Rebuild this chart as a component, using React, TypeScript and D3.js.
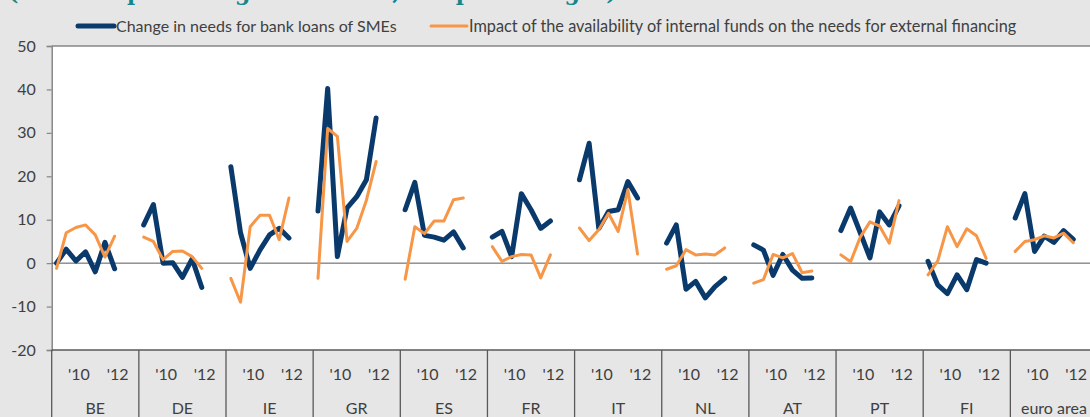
import { useEffect, useRef } from "react";
import * as d3 from "d3";

const C = {
  bg: "#e6e6e6", plot: "#ffffff", blue: "#0a3a6c", orange: "#f79646",
  text: "#404040", axis: "#868686", dark: "#595959", title: "#17868a",
};

const W = 1090, H = 417;
const PLOT = { left: 51.7, top: 46, bottom: 350 };
const GROUP_W = 87.15;
const SLOTS = 9; // 7 half-year rounds + 2 empty slots per country

const COUNTRIES = ["BE", "DE", "IE", "GR", "ES", "FR", "IT", "NL", "AT", "PT", "FI", "euro area"];
const YEAR_LABELS = ["'10", "'12"];
const YEAR_SLOTS = [2.82, 6.8];
const Y_TICKS = [-20, -10, 0, 10, 20, 30, 40, 50];

// change in needs for bank loans of SMEs
const LOAN_NEEDS = [
  [0, 3.2, 0.5, 2.6, -2, 4.8, -1.3],
  [8.8, 13.5, 0, 0.1, -3.3, 1, -5.6],
  [22.2, 7, -1.2, 3, 6.5, 8, 5.8],
  [12, 40.2, 1.5, 12.7, 15.3, 19.2, 33.4],
  [12.3, 18.6, 6.4, 6, 5.3, 7.2, 3.5],
  [6, 7.3, 1.5, 16, 12.3, 8, 9.7],
  [19.2, 27.6, 8, 11.9, 12.3, 18.8, 15],
  [4.6, 8.8, -6, -4.2, -8, -5.4, -3.5],
  [4.2, 3, -2.8, 2, -1.6, -3.5, -3.4],
  [7.5, 12.7, 7, 1.2, 11.8, 8.8, 13.2],
  [0.4, -5, -7, -2.7, -6.1, 0.8, 0],
  [10.4, 16, 2.7, 6.2, 4.8, 7.5, 5.5],
];

// impact of internal funds availability on external financing needs
const INTERNAL_FUNDS = [
  [-1.2, 7, 8.2, 8.8, 6.5, 1.4, 6.2],
  [6, 5, 0.8, 2.7, 2.8, 1.5, -1.2],
  [-3.5, -9, 8.4, 11, 11, 5.4, 15],
  [-3.5, 31, 29.2, 5, 8, 14.5, 23.4],
  [-3.7, 8.4, 6.8, 9.7, 9.7, 14.6, 15],
  [3.8, 0.4, 1.5, 2, 1.9, -3.4, 1.9],
  [8.1, 5.2, 7.7, 11.5, 7.3, 16.9, 2.1],
  [-1.4, -0.6, 3.1, 1.9, 2.1, 1.9, 3.5],
  [-4.6, -3.8, 2, 1.2, 2.2, -2.2, -1.8],
  [1.9, 0.3, 6, 9.5, 8.5, 4.6, 14.4],
  [-2.7, 0.5, 8.4, 3.8, 7.9, 6.3, 1.1],
  [2.7, 5, 5.4, 6.3, 5.8, 6.9, 4.7],
];

const SERIES = [
  { name: "Change in needs for bank loans of SMEs", data: LOAN_NEEDS, color: C.blue, width: 5 },
  { name: "Impact of the availability of internal funds on the needs for external financing", data: INTERNAL_FUNDS, color: C.orange, width: 3 },
];

const FONT = "Lato, 'Open Sans', sans-serif";

export default function App() {
  const svgRef = useRef<SVGSVGElement>(null);

  useEffect(() => {
    const svg = d3.select(svgRef.current);
    svg.selectAll("*").remove();

    const x = d3.scaleLinear()
      .domain([0, COUNTRIES.length * SLOTS])
      .range([PLOT.left, PLOT.left + GROUP_W * COUNTRIES.length]);
    const y = d3.scaleLinear().domain([-20, 50]).range([PLOT.bottom, PLOT.top]);
    const right = x(COUNTRIES.length * SLOTS);

    svg.append("rect").attr("width", W).attr("height", H).attr("fill", C.bg);

    // title: sits above the picture, only its descenders show
    svg.append("text").attr("x", 8).attr("y", 0)
      .attr("font-family", "'DejaVu Serif', serif").attr("font-weight", 700)
      .attr("font-size", 22).attr("fill", C.title)
      .text("(over the preceding six months; net percentages)");

    // plot area
    svg.append("rect").attr("x", PLOT.left).attr("y", PLOT.top)
      .attr("width", right - PLOT.left).attr("height", PLOT.bottom - PLOT.top)
      .attr("fill", C.plot);
    svg.append("line").attr("x1", PLOT.left).attr("x2", right)
      .attr("y1", PLOT.top).attr("y2", PLOT.top)
      .attr("stroke", C.axis).attr("stroke-width", 1.5);

    // ── y axis ──
    svg.append("g").attr("transform", `translate(${PLOT.left},0)`)
      .call(d3.axisLeft(y).tickValues(Y_TICKS).tickSize(5).tickPadding(11)
        .tickFormat(d => String(d)))
      .call(a => a.select(".domain").attr("stroke", C.axis).attr("stroke-width", 1.5))
      .call(a => a.selectAll(".tick line").attr("stroke", C.axis).attr("stroke-width", 1.2))
      .call(a => a.selectAll("text").attr("fill", C.text).attr("font-size", 16)
        .attr("font-family", FONT));

    // zero line
    svg.append("line").attr("x1", PLOT.left).attr("x2", right)
      .attr("y1", y(0)).attr("y2", y(0))
      .attr("stroke", C.dark).attr("stroke-width", 1);

    // ── category axis ──
    const cat = svg.append("g");
    cat.append("line").attr("x1", PLOT.left).attr("x2", right)
      .attr("y1", PLOT.bottom).attr("y2", PLOT.bottom)
      .attr("stroke", C.dark).attr("stroke-width", 1.5);
    COUNTRIES.forEach((name, g) => {
      const x0 = x(g * SLOTS);
      cat.append("line").attr("x1", x0).attr("x2", x0)
        .attr("y1", PLOT.bottom).attr("y2", H)
        .attr("stroke", C.dark).attr("stroke-width", 1.3);
      YEAR_LABELS.forEach((lab, k) => {
        cat.append("text").attr("x", x(g * SLOTS + YEAR_SLOTS[k])).attr("y", 379.5)
          .attr("text-anchor", "middle").attr("font-family", FONT).attr("font-size", 16)
          .attr("fill", C.text).text(lab);
      });
      cat.append("text").attr("x", x(g * SLOTS + SLOTS / 2)).attr("y", 413.5)
        .attr("text-anchor", "middle").attr("font-family", FONT).attr("font-size", 16)
        .attr("fill", C.text).text(name);
    });

    // ── lines, one segment per country ──
    const line = d3.line<[number, number]>().x(d => x(d[0])).y(d => y(d[1]));
    SERIES.forEach(s => {
      const sg = svg.append("g");
      s.data.forEach((vals, g) => {
        const pts = vals.map((v, i) => [g * SLOTS + i + 0.5, v] as [number, number]);
        sg.append("path").attr("d", line(pts))
          .attr("fill", "none").attr("stroke", s.color).attr("stroke-width", s.width)
          .attr("stroke-linejoin", "round").attr("stroke-linecap", "round");
      });
    });

    // ── legend ──
    const legX = [78, 431];
    SERIES.forEach((s, k) => {
      const lg = svg.append("g").attr("transform", `translate(${legX[k]},0)`);
      lg.append("line").attr("x1", 0).attr("x2", 36).attr("y1", 26).attr("y2", 26)
        .attr("stroke", s.color).attr("stroke-width", s.width).attr("stroke-linecap", "round");
      lg.append("text").attr("x", 38).attr("y", 31.5)
        .attr("font-family", FONT).attr("font-size", k === 0 ? 16 : 16.3).attr("fill", C.text)
        .text(s.name);
    });
  }, []);

  return (
    <div style={{ position: "absolute", left: 0, top: 0, width: W, height: H, overflow: "hidden" }}>
      <svg ref={svgRef} width={W} height={H} style={{ display: "block" }} />
    </div>
  );
}
